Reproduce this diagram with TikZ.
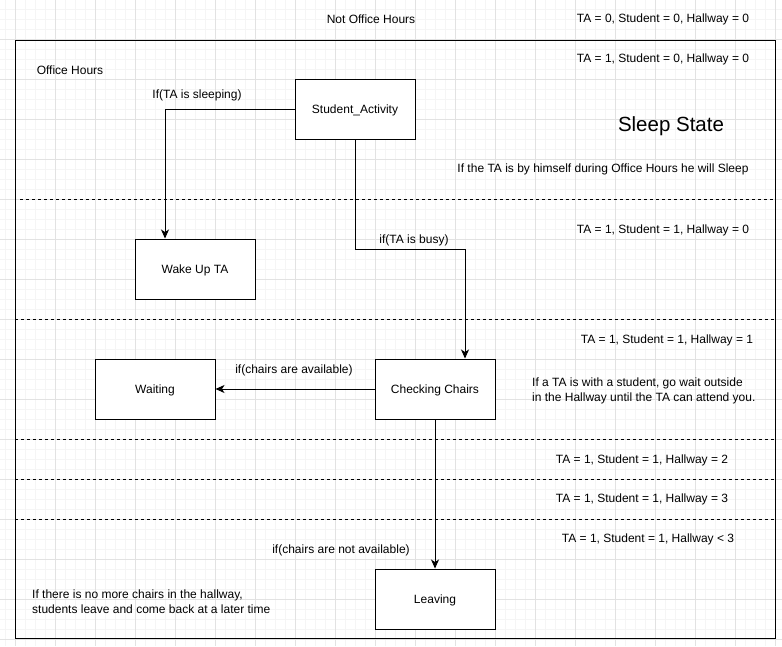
\documentclass[tikz,border=0pt]{standalone}
\usepackage{fontspec}
\setmainfont{Liberation Sans}
\usetikzlibrary{arrows.meta}
\definecolor{gridminor}{HTML}{F5F5F5}
\definecolor{gridmajor}{HTML}{E2E2E2}
\tikzset{
  state/.style={draw, line width=1pt, fill=white, minimum width=120pt, minimum height=60pt, inner sep=0pt, text height=8.6pt, text depth=0pt, font=\fontsize{12}{15}\selectfont},
  lbl/.style={inner sep=0pt, font=\fontsize{12}{15}\selectfont},
  flow/.style={line width=1pt, -{Stealth[length=9pt,width=8pt,inset=2.5pt]}},
  split/.style={line width=1pt, dash pattern=on 3pt off 3pt},
}

\begin{document}
\begin{tikzpicture}[x=1pt,y=-1pt]
    \useasboundingbox (0,0) rectangle (782,646);
    % grid
    \foreach \gx in {5,15,...,775} \draw[gridminor] (\gx,0) -- (\gx,646);
    \foreach \gy in {9,19,...,639} \draw[gridminor] (0,\gy) -- (782,\gy);
    \foreach \gx in {15,55,...,775} \draw[gridmajor] (\gx,0) -- (\gx,646);
    \foreach \gy in {39,79,...,639} \draw[gridmajor] (0,\gy) -- (782,\gy);
    % office hours frame
    \draw[line width=1pt] (15,40) rectangle (775,638);
    \draw[split] (20,199) -- (775,199);
    \draw[split] (15,319) -- (775,319);
    \draw[split] (15,439) -- (775,439);
    \draw[split] (15,479) -- (775,479);
    \draw[split] (15,519) -- (775,519);
    % states
    \node[state] (act) at (355,109) {Student\_Activity};
    \node[state] (wake) at (195,269) {Wake Up TA};
    \node[state] (wait) at (155,389) {Waiting};
    \node[state] (check) at (435,389) {Checking Chairs};
    \node[state] (leave) at (435,599) {Leaving};
    % transitions
    \coordinate (busy) at (465,249);
    \draw[flow] (act.west) -| ([xshift=-30pt]wake.north);
    \draw[flow] (act.south) |- (busy) -- ([xshift=30pt]check.north);
    \draw[flow] (check.west) -- (wait.east);
    \draw[flow] (check.south) -- (leave.north);
    % texts
    \node[lbl] (notoffice) at (371,19) {Not Office Hours};
    \node[lbl] (office) at (70,70) {Office Hours};
    \node[lbl] (sleeping) at (197,95) {If(TA is sleeping)};
    \node[lbl] (isbusy) at (414,240) {if(TA is busy)};
    \node[lbl] (avail) at (294,370) {if(chairs are available)};
    \node[lbl] (notavail) at (341,550) {if(chairs are not available)};
    \node[lbl, font=\fontsize{20.5}{24}\selectfont] (sleepstate) at (671,126) {Sleep State};
    \node[lbl] (sleepnote) at (603,169) {If the TA is by himself during Office Hours he will Sleep};
    \node[lbl, anchor=west, align=left] (waitnote) at (532,391) {If a TA is with a student, go wait outside\\in the Hallway until the TA can attend you.};
    \node[lbl, anchor=west, align=left] (leavenote) at (32,602) {If there is no more chairs in the hallway,\\students leave and come back at a later time};
    \node[lbl] (s000) at (663,19) {TA = 0, Student = 0, Hallway = 0};
    \node[lbl] (s100) at (663,59) {TA = 1, Student = 0, Hallway = 0};
    \node[lbl] (s110) at (663,230) {TA = 1, Student = 1, Hallway = 0};
    \node[lbl] (s111) at (667,340) {TA = 1, Student = 1, Hallway = 1};
    \node[lbl] (s112) at (642,460) {TA = 1, Student = 1, Hallway = 2};
    \node[lbl] (s113) at (642,499) {TA = 1, Student = 1, Hallway = 3};
    \node[lbl] (s11l) at (648,539) {TA = 1, Student = 1, Hallway < 3};
\end{tikzpicture}
\end{document}
